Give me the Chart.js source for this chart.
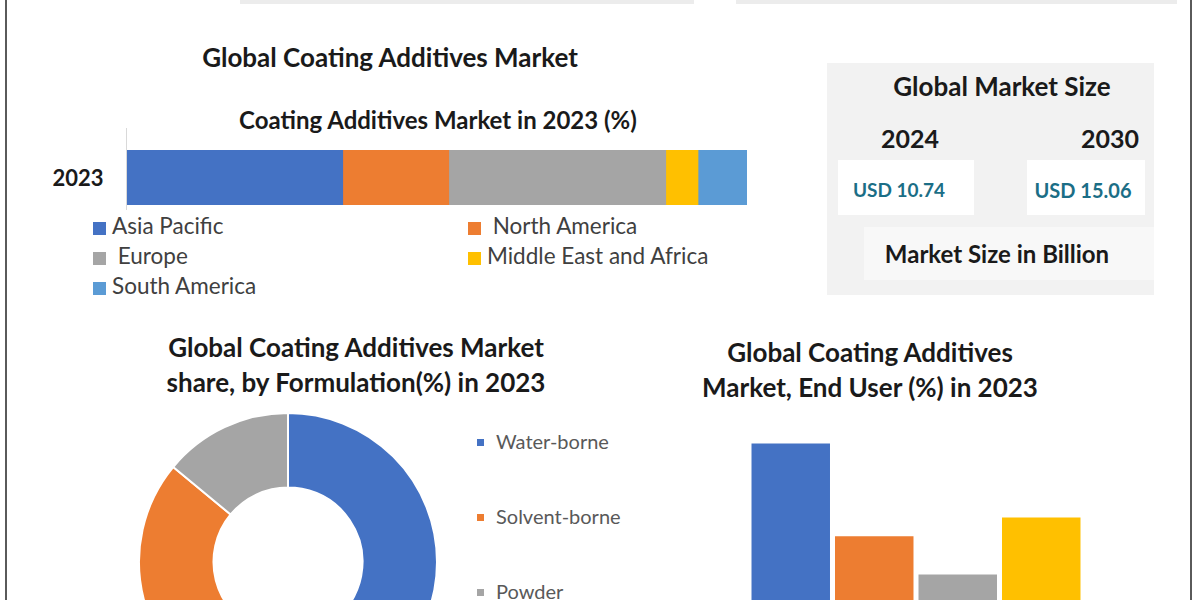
<!DOCTYPE html>
<html>
<head>
<meta charset="utf-8">
<script src="https://cdn.jsdelivr.net/npm/chart.js@4.4.1/dist/chart.umd.min.js"></script>
<style>
  html, body { margin: 0; padding: 0; background: #fff; overflow: hidden; }
  #page { position: relative; width: 1200px; height: 600px; overflow: hidden; background: #fff;
          font-family: Lato, "Open Sans", sans-serif; color: #1a1a1a; }
  .abs { position: absolute; }
  .t { position: absolute; white-space: nowrap; font-weight: bold; text-align: center; }
  canvas { position: absolute; }
  .leg { position: absolute; white-space: nowrap; font-size: 22.5px; color: #404040; line-height: 30px; }
  .leg span.sw { display: inline-block; width: 13px; height: 13px; margin-right: 6px; vertical-align: -1px; }
  .dleg { position: absolute; white-space: nowrap; font-size: 20px; color: #595959; line-height: 22px; }
  .dleg span.sw { display: inline-block; width: 7px; height: 7px; margin-right: 12px; vertical-align: 3px; }
</style>
</head>
<body>
<div id="page">
  <!-- frame -->
  <div class="abs" style="left:5px;top:0;width:2px;height:600px;background:#5a5a5a"></div>
  <div class="abs" style="left:1190px;top:0;width:2px;height:600px;background:#5a5a5a"></div>
  <div class="abs" style="left:240px;top:0;width:454px;height:4px;background:#ececec"></div>
  <div class="abs" style="left:736px;top:0;width:441px;height:4px;background:#ececec"></div>

  <!-- top block -->
  <div class="t" style="left:140px;width:500px;top:41px;font-size:26px;line-height:32px">Global Coating Additives Market</div>
  <div class="t" style="left:188px;width:500px;top:105px;font-size:24px;line-height:30px">Coating Additives Market in 2023 (%)</div>
  <div class="abs" style="left:126px;top:128px;width:1px;height:82px;background:#d9d9d9"></div>
  <div class="t" id="yearLabel" style="left:40px;width:76px;top:164px;font-size:22px;line-height:28px"></div>
  <canvas id="regionChart" width="620" height="55" style="left:127px;top:150px"></canvas>
  <div id="regionLegend"></div>

  <!-- market size box -->
  <div class="abs" style="left:827px;top:63px;width:327px;height:232px;background:#f2f2f2"></div>
  <div class="abs" style="left:838px;top:160px;width:136px;height:55px;background:#fff"></div>
  <div class="abs" style="left:1027px;top:160px;width:118px;height:55px;background:#fff"></div>
  <div class="abs" style="left:864px;top:227px;width:290px;height:53px;background:#f8f8f8"></div>
  <div class="t" style="left:852px;width:300px;top:70px;font-size:26px;line-height:32px">Global Market Size</div>
  <div class="t" id="yearA" style="left:860px;width:100px;top:122px;font-size:25px;line-height:32px"></div>
  <div class="t" id="yearB" style="left:1060px;width:100px;top:122px;font-size:25px;line-height:32px"></div>
  <div class="t" id="sizeA" style="left:839px;width:120px;top:177px;font-size:19px;line-height:26px;color:#1b6e86"></div>
  <div class="t" id="sizeB" style="left:1023px;width:120px;top:177px;font-size:20px;line-height:26px;color:#1b6e86"></div>
  <div class="t" style="left:847px;width:300px;top:239px;font-size:24px;line-height:29px">Market Size in Billion</div>

  <!-- donut block -->
  <div class="t" style="left:156px;width:400px;top:330px;font-size:26px;line-height:35px">Global Coating Additives Market<br>share, by Formulation(%) in 2023</div>
  <canvas id="formChart" width="300" height="300" style="left:138px;top:412px"></canvas>
  <div id="formLegend"></div>

  <!-- end user block -->
  <div class="t" style="left:670px;width:400px;top:335px;font-size:26px;line-height:35px">Global Coating Additives<br>Market, End User (%) in 2023</div>
  <canvas id="endUserChart" width="334" height="228" style="left:749px;top:432px"></canvas>
</div>

<script>
// Datos
const regionYear = ['2023'];
const regions = ['Asia Pacific', 'North America', 'Europe', 'Middle East and Africa', 'South America'];
const regionShare = [34.8, 17.1, 35.0, 5.2, 7.9];
const regionColors = ['#4472C4', '#ED7D31', '#A5A5A5', '#FFC000', '#5B9BD5'];

const sizeYears = ['2024', '2030'];
const sizeValues = ['USD 10.74', 'USD 15.06'];

const formulations = ['Water-borne', 'Solvent-borne', 'Powder'];
const formulationShare = [56, 30, 14];
const formulationColors = ['#4472C4', '#ED7D31', '#A5A5A5'];

const endUsers = ['End user 1', 'End user 2', 'End user 3', 'End user 4'];
const endUserShare = [38, 21.7, 15, 25];
const endUserColors = ['#4472C4', '#ED7D31', '#A5A5A5', '#FFC000'];

// Textos del bloque de tamaño de mercado
document.getElementById('yearLabel').textContent = regionYear[0];
document.getElementById('yearA').textContent = sizeYears[0];
document.getElementById('yearB').textContent = sizeYears[1];
document.getElementById('sizeA').textContent = sizeValues[0];
document.getElementById('sizeB').textContent = sizeValues[1];

// Leyenda de regiones (2 columnas)
const legPos = [[93, 211], [468, 211], [93, 241], [468, 241], [93, 271]];
const regLeg = document.getElementById('regionLegend');
regions.forEach((r, i) => {
    const d = document.createElement('div');
    d.className = 'leg';
    d.style.left = legPos[i][0] + 'px';
    d.style.top = legPos[i][1] + 'px';
    const pad = (r === 'Europe' || r === 'North America') ? '&nbsp;' : '';
    d.innerHTML = '<span class="sw" style="background:' + regionColors[i] + '"></span>' + pad + r;
    regLeg.appendChild(d);
});

// Leyenda de formulación
const formLeg = document.getElementById('formLegend');
formulations.forEach((f, i) => {
    const d = document.createElement('div');
    d.className = 'dleg';
    d.style.left = '477px';
    d.style.top = (430 + i * 75) + 'px';
    d.innerHTML = '<span class="sw" style="background:' + formulationColors[i] + '"></span>' + f;
    formLeg.appendChild(d);
});

Chart.defaults.animation = false;
Chart.defaults.plugins.legend.display = false;
Chart.defaults.plugins.tooltip.enabled = false;

// Barra apilada horizontal por región
new Chart(document.getElementById('regionChart'), {
    type: 'bar',
    data: {
        labels: regionYear,
        datasets: regions.map((r, i) => ({
            label: r,
            data: [regionShare[i]],
            backgroundColor: regionColors[i],
            borderWidth: 0,
            barPercentage: 1,
            categoryPercentage: 1
        }))
    },
    options: {
        responsive: false,
        indexAxis: 'y',
        layout: { padding: 0 },
        scales: {
            x: { stacked: true, min: 0, max: 100, display: false },
            y: { stacked: true, display: false }
        }
    }
});

// Dona por formulación
new Chart(document.getElementById('formChart'), {
    type: 'doughnut',
    data: {
        labels: formulations,
        datasets: [{
            data: formulationShare,
            backgroundColor: formulationColors,
            borderColor: '#ffffff',
            borderWidth: 2
        }]
    },
    options: {
        responsive: false,
        cutout: '50%',
        layout: { padding: 0 }
    }
});

// Barras por usuario final
new Chart(document.getElementById('endUserChart'), {
    type: 'bar',
    data: {
        labels: endUsers,
        datasets: [{
            data: endUserShare,
            backgroundColor: endUserColors,
            borderWidth: 0,
            barPercentage: 0.94,
            categoryPercentage: 1
        }]
    },
    options: {
        responsive: false,
        layout: { padding: 0 },
        scales: {
            x: { display: false },
            y: { display: false, min: 0, max: 40 }
        }
    }
});
</script>
</body>
</html>
